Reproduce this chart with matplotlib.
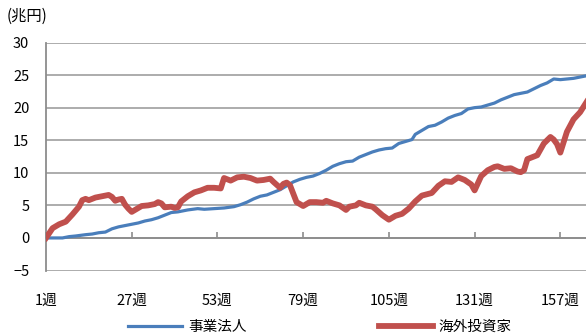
import matplotlib.pyplot as plt

plt.rcParams['font.family'] = ['Noto Sans CJK JP', 'DejaVu Sans']

# 事業法人 (week, 兆円)
corp_w = [1, 6, 8, 10, 13, 15, 17, 19, 21, 23, 25, 27, 29, 31, 33, 35, 37, 39, 41, 44,
          47, 49, 52, 55, 58, 60, 62, 64, 66, 68, 70, 72, 74, 76, 78, 80, 82, 84, 86, 88,
          90, 92, 94, 96, 98, 100, 102, 104, 106, 108, 110, 112, 113, 115, 117, 119, 121,
          123, 125, 127, 129, 131, 133, 135, 137, 139, 141, 143, 145, 147, 149, 151, 153,
          155, 157, 159, 161, 163, 165]
corp_v = [0.0, 0.0, 0.2, 0.3, 0.5, 0.6, 0.8, 0.9, 1.4, 1.7, 1.9, 2.1, 2.3, 2.6, 2.8, 3.1,
          3.5, 3.9, 4.0, 4.3, 4.5, 4.4, 4.5, 4.6, 4.8, 5.1, 5.5, 6.0, 6.4, 6.6, 7.0, 7.4,
          8.0, 8.6, 9.0, 9.3, 9.5, 9.9, 10.4, 11.0, 11.4, 11.7, 11.8, 12.4, 12.8, 13.2,
          13.5, 13.7, 13.8, 14.5, 14.8, 15.1, 15.9, 16.5, 17.1, 17.3, 17.8, 18.4, 18.8,
          19.1, 19.8, 20.0, 20.1, 20.4, 20.7, 21.2, 21.6, 22.0, 22.2, 22.4, 22.9, 23.4,
          23.8, 24.4, 24.3, 24.4, 24.5, 24.7, 24.9]

# 海外投資家 (week, 兆円)
frgn_w = [1, 3, 5, 7, 9, 11, 12, 13, 14, 16, 18, 20, 21, 22, 23, 24, 25, 26, 27, 28, 30,
          32, 34, 35, 36, 37, 39, 40, 41, 42, 44, 46, 48, 50, 52, 54, 55, 56, 57, 59, 61,
          63, 65, 67, 69, 70, 72, 73, 74, 75, 76, 77, 79, 81, 83, 85, 86, 88, 90, 92, 93,
          95, 96, 98, 100, 101, 103, 105, 107, 109, 111, 113, 115, 118, 120, 122, 124, 126,
          128, 130, 131, 133, 135, 137, 138, 140, 142, 144, 145, 146, 147, 150, 152, 154,
          155, 156, 157, 159, 161, 163, 165]
frgn_v = [0.0, 1.5, 2.1, 2.5, 3.6, 4.8, 5.8, 6.0, 5.8, 6.2, 6.4, 6.6, 6.3, 5.7, 5.9, 6.0,
          5.1, 4.5, 4.0, 4.3, 4.9, 5.0, 5.2, 5.5, 5.3, 4.7, 4.8, 4.6, 4.7, 5.6, 6.4, 7.0,
          7.3, 7.7, 7.7, 7.6, 9.2, 9.0, 8.8, 9.3, 9.4, 9.2, 8.8, 8.9, 9.1, 8.6, 7.7, 8.3,
          8.5, 8.1, 6.8, 5.5, 4.9, 5.5, 5.5, 5.4, 5.7, 5.3, 5.0, 4.3, 4.8, 5.0, 5.4, 5.0,
          4.8, 4.4, 3.5, 2.8, 3.4, 3.7, 4.5, 5.6, 6.5, 6.9, 8.0, 8.7, 8.6, 9.3, 8.9, 8.2,
          7.3, 9.5, 10.4, 10.9, 11.0, 10.6, 10.7, 10.2, 10.1, 10.4, 12.1, 12.7, 14.5, 15.5,
          15.1, 14.4, 13.1, 16.3, 18.2, 19.3, 20.9]

tick_weeks = [1, 27, 53, 79, 105, 131, 157]
tick_labels = [f'{w}週' for w in tick_weeks]

fig = plt.figure(figsize=(5.86, 3.35), dpi=100)
ax = fig.add_axes([0.0785, 0.1925, 0.9227, 0.6806])

grid_c = '#a6a6a6'
ax.plot(corp_w, corp_v, color='#4a7ebb', lw=2.3, label='事業法人', zorder=3)
ax.plot(frgn_w, frgn_v, color='#c0504d', lw=4.2, label='海外投資家', zorder=4,
        solid_joinstyle='round')

ax.set_xlim(1, 165)
ax.set_ylim(-5, 30)
ax.set_yticks(range(-5, 31, 5))
ax.yaxis.grid(True, color=grid_c, lw=1.3)
ax.set_axisbelow(True)

ax.spines['top'].set_visible(False)
ax.spines['right'].set_visible(False)
ax.spines['left'].set_color('#8c8c8c')
ax.spines['left'].set_linewidth(1.3)
ax.spines['bottom'].set_position(('data', 0))
ax.spines['bottom'].set_color('#8c8c8c')
ax.spines['bottom'].set_linewidth(1.3)

ax.set_xticks(tick_weeks)
ax.set_xticklabels(tick_labels)
ax.tick_params(axis='x', direction='in', length=4, width=1.2, color='#8c8c8c',
               pad=40, labelsize=10.5)
ax.tick_params(axis='y', length=0, pad=12, labelsize=10.5)

fig.text(0.012, 0.95, '(兆円)', fontsize=11, va='center', ha='left')

fig.legend(loc='center', bbox_to_anchor=(0.546, 0.024), ncol=2, frameon=False,
           fontsize=10.5, handlelength=3.7, columnspacing=9.1, handletextpad=0.4)

fig.savefig('out.png', dpi=100)
